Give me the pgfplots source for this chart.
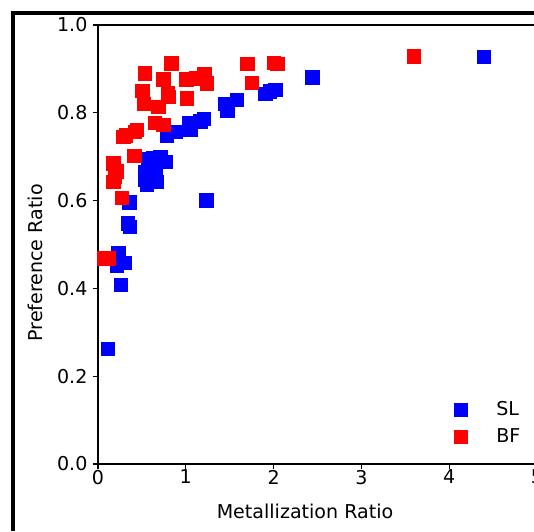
\documentclass[border=0pt]{standalone}
\usepackage{fontspec}
\setmainfont{DejaVu Sans}
\usepackage{pgfplots}
\pgfplotsset{compat=1.18}

\begin{document}
\begin{tikzpicture}
\begin{axis}[
  at={(73.5pt,50.25pt)}, anchor=south west,
  scale only axis, width=329.25pt, height=329.25pt,
  xmin=0, xmax=5, ymin=0, ymax=1,
  xtick={0,1,2,3,4,5}, ytick={0,0.2,0.4,0.6,0.8,1.0},
  /pgf/number format/assume math mode=true,
  font=\fontsize{14.3pt}{17pt}\selectfont,
  tick label style={font=\fontsize{14.3pt}{17pt}\selectfont},
  xticklabel style={inner ysep=0.5pt},
  yticklabel style={inner xsep=4pt, /pgf/number format/.cd, fixed, fixed zerofill, precision=1},
  label style={font=\fontsize{14.3pt}{17pt}\selectfont},
  tick align=outside, major tick length=3.75pt,
  tick style={black, line width=0.8pt},
  axis line style={line width=0.8pt},
  xtick pos=bottom, ytick pos=left,
  xlabel={Metallization Ratio}, ylabel={Preference Ratio},
  xlabel style={at={(axis description cs:0.4715,-0.109)}, anchor=center},
  ylabel style={at={(axis description cs:-0.1435,0.458)}, anchor=center},
  legend style={at={(0.811,0.093)}, anchor=west, draw=none, fill=none,
    inner sep=0pt, row sep=4.5pt, font=\fontsize{14.3pt}{17pt}\selectfont},
  legend cell align=left,
  legend image code/.code={\draw[#1] plot coordinates {(0pt,0pt)}; \path[draw=none, fill=none] (-5pt,0pt) -- (24.5pt,0pt);},
  mark size=5pt,
]
\addplot[only marks, mark=square*, color={rgb,255:red,0;green,0;blue,255}] coordinates {
(0.114,0.262) (0.263,0.408) (0.232,0.480) (0.217,0.453) (0.308,0.458)
(0.340,0.548) (0.362,0.540) (0.357,0.596)
(0.574,0.696) (0.630,0.697) (0.708,0.700) (0.765,0.689) (0.537,0.666)
(0.651,0.670) (0.670,0.643) (0.537,0.647) (0.556,0.636)
(0.784,0.749) (0.879,0.757) (1.031,0.776) (1.050,0.761) (1.164,0.781)
(1.202,0.787) (1.233,0.601) (1.450,0.820) (1.473,0.804) (1.583,0.829)
(1.906,0.844) (1.960,0.849) (2.020,0.852) (2.440,0.881) (4.395,0.927)
};
\addlegendentry{SL}
\addplot[only marks, mark=square*, color={rgb,255:red,255;green,0;blue,0}] coordinates {
(0.068,0.469) (0.126,0.469) (0.274,0.606)
(0.175,0.685) (0.210,0.667) (0.194,0.655) (0.175,0.643)
(0.289,0.746) (0.320,0.749) (0.422,0.757) (0.445,0.761) (0.414,0.702)
(0.529,0.890) (0.506,0.850) (0.522,0.820) (0.688,0.813) (0.643,0.777)
(0.745,0.772) (0.833,0.913) (0.745,0.876) (0.796,0.846) (0.800,0.836)
(1.013,0.833) (1.005,0.876) (1.119,0.879) (1.210,0.888) (1.241,0.867)
(1.700,0.912) (1.755,0.869) (2.001,0.914) (2.043,0.911) (3.596,0.929)
};
\addlegendentry{BF}
\end{axis}
\draw[line width=3pt] (9.75pt,0pt) -- (9.75pt,388.5pt) -- (400.5pt,388.5pt);
\pgfresetboundingbox
\useasboundingbox (0,0) rectangle (400.5pt,398.25pt);
\end{tikzpicture}
\end{document}
